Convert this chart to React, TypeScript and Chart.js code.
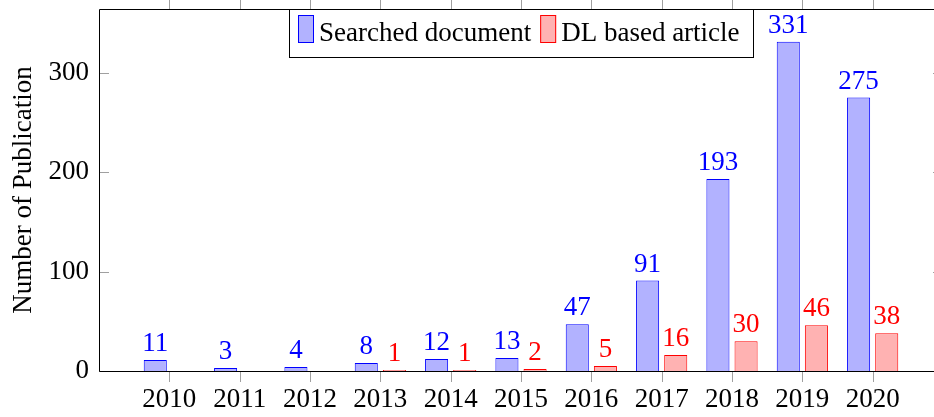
import React, { useEffect, useRef } from "react";
import { Chart, registerables } from "chart.js";

Chart.register(...registerables);

// ---- data ----
const years = [2010, 2011, 2012, 2013, 2014, 2015, 2016, 2017, 2018, 2019, 2020];
const searchedDocs = [11, 3, 4, 8, 12, 13, 47, 91, 193, 331, 275];
const dlArticles: (number | null)[] = [null, null, null, 1, 1, 2, 5, 16, 30, 46, 38];
const seriesLabels = ["Searched document", "DL based article"];
const yTicks = [0, 100, 200, 300];
const yTitle = "Number of Publication";
const yMax = 364;
const xMin = 2009;
const xMax = 2021;

const FONT = '"Liberation Serif", "Times New Roman", serif';
const FS = 27;
const W = 944;
const H = 417;

const framePlugin = {
  id: "frame",
  afterDatasetsDraw(chart: any) {
    const { ctx, chartArea: a, scales } = chart;
    ctx.save();
    ctx.lineWidth = 1;
    ctx.strokeStyle = "#a0a0a0";
    ctx.beginPath();
    scales.x.ticks.forEach((t: any) => {
      const px = Math.round(scales.x.getPixelForValue(t.value)) + 0.5;
      ctx.moveTo(px, a.bottom);
      ctx.lineTo(px, a.bottom + 11);
      ctx.moveTo(px, a.top);
      ctx.lineTo(px, a.top - 11);
    });
    scales.y.ticks.forEach((t: any) => {
      const py = Math.round(scales.y.getPixelForValue(t.value)) + 0.5;
      ctx.moveTo(a.left, py);
      ctx.lineTo(a.left + 10, py);
      ctx.moveTo(a.right, py);
      ctx.lineTo(a.right - 10, py);
    });
    ctx.stroke();
    ctx.strokeStyle = "#000";
    ctx.beginPath();
    const l = Math.round(a.left) + 0.5;
    const r = Math.round(a.right) - 0.5;
    const t = Math.round(a.top) + 0.5;
    const b = Math.round(a.bottom) + 0.5;
    ctx.moveTo(l, t);
    ctx.lineTo(r, t);
    ctx.lineTo(r, b);
    ctx.lineTo(l, b);
    ctx.closePath();
    ctx.stroke();
    ctx.restore();
  },
};

const valueLabelPlugin = {
  id: "valueLabels",
  afterDatasetsDraw(chart: any) {
    const { ctx } = chart;
    ctx.save();
    ctx.font = `${FS}px ${FONT}`;
    ctx.textAlign = "center";
    ctx.textBaseline = "alphabetic";
    chart.data.datasets.forEach((ds: any, i: number) => {
      const meta = chart.getDatasetMeta(i);
      ctx.fillStyle = ds.borderColor;
      meta.data.forEach((el: any, j: number) => {
        const v = ds.data[j].y;
        if (v == null) return;
        ctx.fillText(String(v), el.x, el.y - 9);
      });
    });
    ctx.restore();
  },
};

const legendPlugin = {
  id: "customLegend",
  afterDraw(chart: any) {
    const { ctx, chartArea: a } = chart;
    ctx.save();
    ctx.font = `${FS}px ${FONT}`;
    const items = chart.data.datasets.map((ds: any) => ({
      label: ds.label,
      fill: ds.backgroundColor,
      stroke: ds.borderColor,
      w: ctx.measureText(ds.label).width,
    }));
    const padL = 9, sw = 16, gapT = 5, gapItem = 9, padR = 13;
    let total = padL + padR + gapItem * (items.length - 1);
    items.forEach((it: any) => (total += sw + gapT + it.w));
    const cx = (a.left + a.right) / 2;
    const x0 = Math.round(cx - total / 2);
    const y0 = Math.round(a.top);
    const bh = 48;
    ctx.fillStyle = "#fff";
    ctx.fillRect(x0, y0, total, bh);
    ctx.strokeStyle = "#000";
    ctx.lineWidth = 1;
    ctx.strokeRect(x0 + 0.5, y0 + 0.5, Math.round(total), bh);
    let x = x0 + padL;
    items.forEach((it: any) => {
      ctx.fillStyle = it.fill;
      ctx.fillRect(x, y0 + 6, sw, 28);
      ctx.strokeStyle = it.stroke;
      ctx.strokeRect(x + 0.5, y0 + 6.5, sw - 1, 27);
      x += sw + gapT;
      ctx.fillStyle = "#000";
      ctx.textAlign = "left";
      ctx.textBaseline = "alphabetic";
      ctx.fillText(it.label, x, y0 + 32);
      x += it.w + gapItem;
    });
    ctx.restore();
  },
};

export default function App() {
  const ref = useRef<HTMLCanvasElement | null>(null);

  useEffect(() => {
    if (!ref.current) return;
    const chart = new Chart(ref.current, {
      type: "bar",
      data: {
        datasets: [
          {
            label: seriesLabels[0],
            data: years.map((y, i) => ({ x: y, y: searchedDocs[i] })),
            backgroundColor: "rgb(178,178,255)",
            borderColor: "rgb(0,0,255)",
            borderWidth: 1,
          },
          {
            label: seriesLabels[1],
            data: years.map((y, i) => ({ x: y, y: dlArticles[i] })),
            backgroundColor: "rgb(255,178,178)",
            borderColor: "rgb(255,0,0)",
            borderWidth: 1,
          },
        ],
      } as any,
      options: {
        animation: false,
        responsive: false,
        maintainAspectRatio: false,
        layout: { padding: { top: 9, right: 1, bottom: 0, left: 0 } },
        datasets: { bar: { categoryPercentage: 0.8, barPercentage: 0.82 } },
        plugins: { legend: { display: false }, tooltip: { enabled: false } },
        scales: {
          x: {
            type: "linear",
            min: xMin,
            max: xMax,
            offset: false,
            grid: { display: false, drawTicks: false, offset: false },
            border: { display: false },
            afterBuildTicks: (s: any) => {
              s.ticks = years.map((v) => ({ value: v }));
            },
            afterFit: (s: any) => {
              s.height = H - 371;
              s.paddingLeft = 0;
              s.paddingRight = 0;
            },
            ticks: {
              autoSkip: false,
              maxRotation: 0,
              padding: 13,
              color: "#000",
              font: { family: FONT, size: FS },
              callback: (v: any) => String(v),
            },
          },
          y: {
            min: 0,
            max: yMax,
            grid: { display: false, drawTicks: false },
            border: { display: false },
            afterBuildTicks: (s: any) => {
              s.ticks = yTicks.map((v) => ({ value: v }));
            },
            afterFit: (s: any) => {
              s.width = 99;
              s.paddingTop = 0;
              s.paddingBottom = 0;
            },
            ticks: {
              padding: 10,
              color: "#000",
              font: { family: FONT, size: FS },
            },
            title: {
              display: true,
              text: yTitle,
              color: "#000",
              font: { family: FONT, size: FS },
              padding: { top: 7.5, bottom: 0 },
            },
          },
        },
      } as any,
      plugins: [framePlugin, valueLabelPlugin, legendPlugin],
    });
    return () => chart.destroy();
  }, []);

  return (
    <div
      style={{
        position: "fixed",
        left: 0,
        top: 0,
        width: 934,
        height: 417,
        overflow: "hidden",
        background: "#fff",
      }}
    >
      <canvas ref={ref} width={W} height={H} style={{ width: W, height: H, display: "block" }} />
    </div>
  );
}
